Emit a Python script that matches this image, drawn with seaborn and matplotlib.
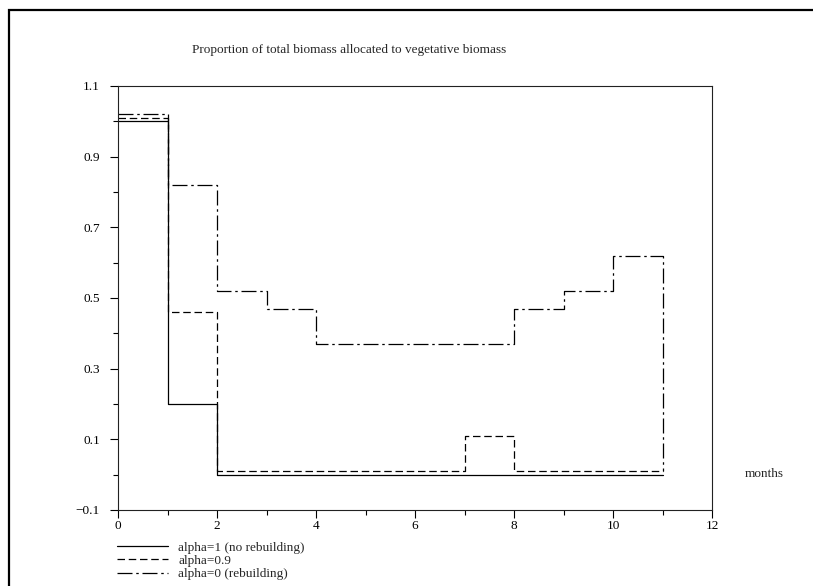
import numpy as np
import pandas as pd
import matplotlib
matplotlib.use("Agg")
import matplotlib.pyplot as plt
from matplotlib.patches import Rectangle
from matplotlib.ticker import MultipleLocator, FixedLocator
import seaborn as sns

# ---- data ----
months = [0, 1, 2, 3, 4, 5, 6, 7, 8, 9, 10, 11]
alpha1 = [1.00, 0.20, 0.00, 0.00, 0.00, 0.00, 0.00, 0.00, 0.00, 0.00, 0.00, 0.00]
alpha09 = [1.01, 0.46, 0.01, 0.01, 0.01, 0.01, 0.01, 0.11, 0.01, 0.01, 0.01, 0.01]
alpha0 = [1.02, 0.82, 0.52, 0.47, 0.37, 0.37, 0.37, 0.37, 0.47, 0.52, 0.62, 0.01]
labels = ["alpha=1 (no rebuilding)", "alpha=0.9", "alpha=0 (rebuilding)"]
title = "Proportion of total biomass allocated to vegetative biomass"
xlabel = "months"
yticks_major = [-0.1, 0.1, 0.3, 0.5, 0.7, 0.9, 1.1]
yticks_minor = [0.0, 0.2, 0.4, 0.6, 0.8, 1.0]

FS = 9.5
sns.set_style("ticks")
plt.rcParams["font.family"] = ["Liberation Serif", "DejaVu Serif"]
plt.rcParams["font.size"] = FS

W, H = 813, 586
fig = plt.figure(figsize=(W / 100, H / 100), dpi=100)
ax = fig.add_axes([118 / W, 1 - 510 / H, (712 - 118) / W, (510 - 86) / H])

series = [alpha1, alpha09, alpha0]
styles = ["-", (0, (6, 3)), (0, (12, 3, 2, 3))]
for vals, lab, ls in zip(series, labels, styles):
    sns.lineplot(x=months, y=vals, ax=ax, color="black", linewidth=0.9,
                 drawstyle="steps-post", linestyle=ls, label=lab)

ax.set_xlim(0, 12)
ax.set_ylim(-0.1, 1.1)
ax.set_xlabel("")
ax.set_ylabel("")
ax.xaxis.set_major_locator(MultipleLocator(2))
ax.xaxis.set_minor_locator(FixedLocator([1, 3, 5, 7, 9, 11]))
ax.yaxis.set_major_locator(FixedLocator(yticks_major))
ax.yaxis.set_minor_locator(FixedLocator(yticks_minor))
ax.set_yticklabels(["\u22120.1", "0.1", "0.3", "0.5", "0.7", "0.9", "1.1"])
ax.tick_params(axis="both", which="major", length=6, width=0.8, color="black",
               labelsize=FS, labelcolor="black")
ax.tick_params(axis="both", which="minor", length=3.5, width=0.8, color="black")
ax.tick_params(axis="y", which="major", pad=7)
ax.tick_params(axis="x", which="major", length=6, pad=1.5)
for sp in ax.spines.values():
    sp.set_visible(True)
    sp.set_linewidth(0.8)
    sp.set_color("#222222")

leg = ax.legend(loc="upper left", bbox_to_anchor=(117 / W, 1 - 541.5 / H),
                bbox_transform=fig.transFigure, frameon=False, fontsize=FS,
                handlelength=3.9, handletextpad=0.75, labelspacing=0.08,
                borderpad=0, borderaxespad=0)

fig.text(192 / W, 1 - 50 / H, title, ha="left", va="center", fontsize=FS)
fig.text(764 / W, 1 - 474 / H, xlabel, ha="center", va="center", fontsize=FS)

# page frame (cropped at right/bottom)
fig.add_artist(Rectangle((8.5 / W, -0.1), 1.2, 1 - 10 / H + 0.1,
                         transform=fig.transFigure, fill=False,
                         edgecolor="black", linewidth=1.6))

fig.savefig("out.png", dpi=100)
